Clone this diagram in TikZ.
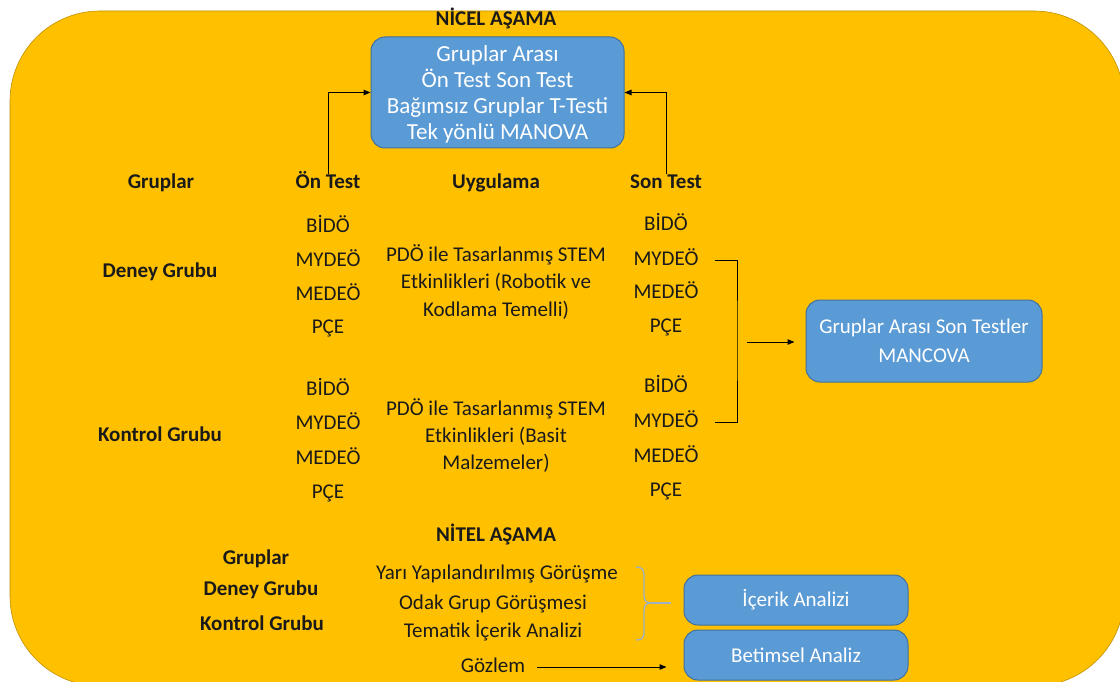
\documentclass[tikz,border=0pt]{standalone}
\usepackage{fontspec}
\setmainfont{Carlito}
\usetikzlibrary{arrows.meta}
\definecolor{gold}{HTML}{FFC000}
\definecolor{golddark}{HTML}{BF9000}
\definecolor{officeblue}{HTML}{5B9BD5}
\definecolor{bluedark}{HTML}{41719C}
\definecolor{bracegray}{HTML}{9DB0C6}
\definecolor{txtdark}{HTML}{1A1A1A}
\begin{document}
\begin{tikzpicture}[x=1pt,y=-1pt,
  multi/.style={font=\fontsize{21}{25}\selectfont, inner sep=0pt, anchor=center, text=txtdark, align=center},
  txt/.style={font=\fontsize{21}{25}\selectfont, inner sep=0pt, anchor=center, text=txtdark, text height=14pt, text depth=3pt},
  hd/.style={font=\fontsize{21}{25}\selectfont\bfseries, inner sep=0pt, anchor=center, text=txtdark, text height=14pt, text depth=3pt},
  bluebox/.style={draw=bluedark, line width=1pt, fill=officeblue, rounded corners=14pt, text=white, align=center, inner sep=0pt},
  arr/.style={-{Triangle[length=7pt,width=5.5pt]}, line width=1pt, draw=black},
  ln/.style={line width=1pt, draw=black},
  brace/.style={line width=1.3pt, draw=bracegray}
]
\useasboundingbox (0,0) rectangle (1120,682);
\clip (0,0) rectangle (1120,682);
\draw[fill=gold, draw=golddark, line width=0.6pt, rounded corners=90pt] (10,11) rectangle (1124,686);

% NICEL
\node[hd] (nicel) at (496,20) {NİCEL AŞAMA};
\node[bluebox, minimum width=253pt, minimum height=111pt] (box1) at (497.5,92.5) {};
\node[multi, text=white, font=\fontsize{23}{26.2}\selectfont] (box1t) at (497.5,94.5)
  {Gruplar Arası\\Ön Test Son Test\\Bağımsız Gruplar T-Testi\\Tek yönlü MANOVA};

% headers
\node[hd] (hg) at (161,183) {Gruplar};
\node[hd] (ho) at (328,183) {Ön Test};
\node[hd] (hu) at (496,183) {Uygulama};
\node[hd] (hs) at (666,183) {Son Test};

\draw[arr] (ho.north) |- (box1.west);
\draw[arr] (hs.north) |- (box1.east);

% Deney
\node[hd] (dg) at (160,272) {Deney Grubu};
\node[txt] (o1) at (328,227) {BİDÖ};
\node[txt] (o2) at (328,261) {MYDEÖ};
\node[txt] (o3) at (328,295) {MEDEÖ};
\node[txt] (o4) at (328,328) {PÇE};
\node[multi, font=\fontsize{21}{27.5}\selectfont] (u1) at (496,282)
  {PDÖ ile Tasarlanmış STEM\\Etkinlikleri (Robotik ve\\Kodlama Temelli)};
\node[txt] (s1) at (666,225) {BİDÖ};
\node[txt] (s2) at (666,260) {MYDEÖ};
\node[txt] (s3) at (666,293) {MEDEÖ};
\node[txt] (s4) at (666,327) {PÇE};

% Kontrol
\node[hd] (kg) at (160,436) {Kontrol Grubu};
\node[txt] (ok1) at (328,390) {BİDÖ};
\node[txt] (ok2) at (328,424) {MYDEÖ};
\node[txt] (ok3) at (328,459) {MEDEÖ};
\node[txt] (ok4) at (328,493) {PÇE};
\node[multi, font=\fontsize{21}{27}\selectfont] (u2) at (496,436)
  {PDÖ ile Tasarlanmış STEM\\Etkinlikleri (Basit\\Malzemeler)};
\node[txt] (sk1) at (666,387) {BİDÖ};
\node[txt] (sk2) at (666,422) {MYDEÖ};
\node[txt] (sk3) at (666,457) {MEDEÖ};
\node[txt] (sk4) at (666,491) {PÇE};

% bracket and MANCOVA
\coordinate (bt) at (737,340);
\coordinate (bm) at (747,342);
\draw[ln, shorten <=16pt, shorten >=16pt] (s2.east) -| (bt) |- (sk2.east);
\node[bluebox, minimum width=236pt, minimum height=82pt, font=\fontsize{21}{29}\selectfont] (box2) at (924,341)
  {Gruplar Arası Son Testler\\MANCOVA};
\draw[arr, shorten >=11pt] (bm) -- (box2.west |- bm);

% NITEL
\node[hd] (nitel) at (496,536) {NİTEL AŞAMA};
\node[hd] (ng) at (256,559) {Gruplar};
\node[hd] (nd) at (261,590) {Deney Grubu};
\node[hd] (nk) at (262,625) {Kontrol Grubu};

\node[txt] (q1) at (497,574) {Yarı Yapılandırılmış Görüşme};
\node[txt] (q2) at (493,604) {Odak Grup Görüşmesi};
\node[txt] (q3) at (493,632) {Tematik İçerik Analizi};
\node[txt] (goz) at (493,667) {Gözlem};

\node[bluebox, minimum width=224pt, minimum height=50pt, font=\fontsize{21}{25}\selectfont] (box3) at (796,600) {İçerik Analizi};
\node[bluebox, minimum width=224pt, minimum height=50pt, font=\fontsize{21}{25}\selectfont] (box4) at (796,655) {Betimsel Analiz};

% brace
\coordinate (tip) at (652,603);
\draw[brace] (636,567) .. controls (642,567) and (644,569) .. (644,577) -- (644,595)
  .. controls (644,601) and (646,603) .. (tip)
  .. controls (646,603) and (644,605) .. (644,611) -- (644,631)
  .. controls (644,638) and (642,640) .. (636,640);
\draw[brace, shorten >=13pt] (tip) -- (box3.west |- tip);

\draw[arr, shorten <=12pt, shorten >=17pt] (goz.east) -- (box4.west |- goz.east);
\end{tikzpicture}
\end{document}
